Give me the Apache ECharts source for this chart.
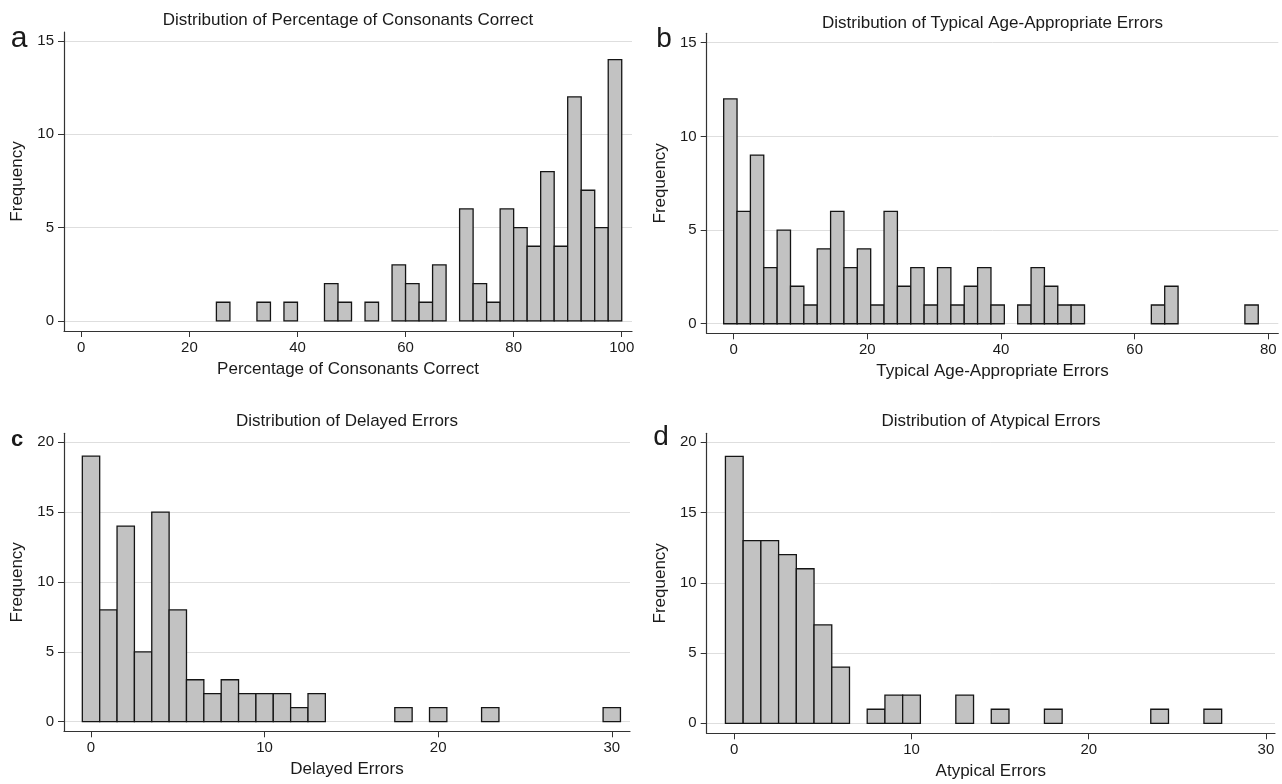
<!DOCTYPE html>
<html>
<head>
<meta charset="utf-8">
<script src="https://cdn.jsdelivr.net/npm/echarts@6/dist/echarts.min.js"></script>
<style>
html,body{margin:0;padding:0;background:#fff;}
#main{width:1282px;height:784px;}
</style>
</head>
<body>
<div id="main"></div>
<script>
// a: percentage of consonants correct (bin width 2.5)
var pccBins = [26.25, 33.75, 38.75, 46.25, 48.75, 53.75, 58.75, 61.25, 63.75, 66.25, 71.25, 73.75, 76.25, 78.75, 81.25, 83.75, 86.25, 88.75, 91.25, 93.75, 96.25, 98.75];
var pccFreq = [1, 1, 1, 2, 1, 1, 3, 2, 1, 3, 6, 2, 1, 6, 5, 4, 8, 4, 12, 7, 5, 14];
// b: typical age-appropriate errors (bin width 2)
var typBins = [-0.5, 1.5, 3.5, 5.5, 7.5, 9.5, 11.5, 13.5, 15.5, 17.5, 19.5, 21.5, 23.5, 25.5, 27.5, 29.5, 31.5, 33.5, 35.5, 37.5, 39.5, 43.5, 45.5, 47.5, 49.5, 51.5, 63.5, 65.5, 77.5];
var typFreq = [12, 6, 9, 3, 5, 2, 1, 4, 6, 3, 4, 1, 6, 2, 3, 1, 3, 1, 2, 3, 1, 1, 3, 2, 1, 1, 1, 2, 1];
// c: delayed errors (bin width 1)
var delBins = [0, 1, 2, 3, 4, 5, 6, 7, 8, 9, 10, 11, 12, 13, 18, 20, 23, 30];
var delFreq = [19, 8, 14, 5, 15, 8, 3, 2, 3, 2, 2, 2, 1, 2, 1, 1, 1, 1];
// d: atypical errors (bin width 1)
var atyBins = [0, 1, 2, 3, 4, 5, 6, 8, 9, 10, 13, 15, 18, 24, 27];
var atyFreq = [19, 13, 13, 12, 11, 7, 4, 1, 2, 2, 2, 1, 1, 1, 1];

var titles = ['Distribution of Percentage of Consonants Correct', 'Distribution of Typical Age-Appropriate Errors', 'Distribution of Delayed Errors', 'Distribution of Atypical Errors'];
var xNames = ['Percentage of Consonants Correct', 'Typical Age-Appropriate Errors', 'Delayed Errors', 'Atypical Errors'];
var xTicks = [[0, 20, 40, 60, 80, 100], [0, 20, 40, 60, 80], [0, 10, 20, 30], [0, 10, 20, 30]];
var yTicks = [[0, 5, 10, 15], [0, 5, 10, 15], [0, 5, 10, 15, 20], [0, 5, 10, 15, 20]];

var FONT = '"Liberation Sans", Arial, sans-serif';
var ink = '#1a1a1a';

function pairs(xs, ys){
    var out = [];
    for (var i = 0; i < xs.length; i++) out.push([xs[i], ys[i]]);
    return out;
}

function histBar(width){
    return function(params, api){
        var x = api.value(0), y = api.value(1);
        var p0 = api.coord([x - width / 2, 0]);
        var p1 = api.coord([x + width / 2, y]);
        return {
            type: 'rect',
            shape: {x: p0[0], y: p1[1], width: p1[0] - p0[0], height: p0[1] - p1[1]},
            style: {fill: '#c2c2c2', stroke: '#151515', lineWidth: 1.3}
        };
    };
}

var grids = [
    {left: 64, right: 650, top: 32, bottom: 453},
    {left: 706.7, right: 3.7, top: 33.3, bottom: 450.7},
    {left: 64, right: 652, top: 433.3, bottom: 52.7},
    {left: 706.7, right: 7, top: 433.3, bottom: 50.7}
];
var xRange = [[-3.2, 101.9], [-4.04, 81.5], [-1.556, 31.05], [-1.557, 30.51]];
var yRange = [[-0.54, 15.48], [-0.51, 15.5], [-0.69, 20.64], [-0.71, 20.64]];

var xAxes = [], yAxes = [];
for (var i = 0; i < 4; i++) {
    xAxes.push({
        gridIndex: i, type: 'value', min: xRange[i][0], max: xRange[i][1],
        name: xNames[i], nameLocation: 'middle', nameGap: 30,
        nameTextStyle: {fontFamily: FONT, fontSize: 17, color: ink},
        axisLine: {show: true, onZero: false, lineStyle: {color: '#333', width: 1.2}},
        axisTick: {show: true, length: 6, customValues: xTicks[i], lineStyle: {color: '#333'}},
        axisLabel: {customValues: xTicks[i], margin: 9, fontFamily: FONT, fontSize: 15, color: ink},
        splitLine: {show: false}
    });
    yAxes.push({
        gridIndex: i, type: 'value', min: yRange[i][0], max: yRange[i][1],
        name: 'Frequency', nameLocation: 'middle', nameGap: 38,
        nameTextStyle: {fontFamily: FONT, fontSize: 17, color: ink},
        axisLine: {show: true, onZero: false, lineStyle: {color: '#333', width: 1.2}},
        axisTick: {show: true, length: 6, customValues: yTicks[i], lineStyle: {color: '#333'}},
        axisLabel: {customValues: yTicks[i], margin: 10, fontFamily: FONT, fontSize: 15, color: ink},
        splitLine: {show: true, lineStyle: {color: '#dedede', width: 1}}
    });
}

var series = [
    {type: 'custom', xAxisIndex: 0, yAxisIndex: 0, renderItem: histBar(2.5), data: pairs(pccBins, pccFreq)},
    {type: 'custom', xAxisIndex: 1, yAxisIndex: 1, renderItem: histBar(2), data: pairs(typBins, typFreq)},
    {type: 'custom', xAxisIndex: 2, yAxisIndex: 2, renderItem: histBar(1), data: pairs(delBins, delFreq)},
    {type: 'custom', xAxisIndex: 3, yAxisIndex: 3, renderItem: histBar(1), data: pairs(atyBins, atyFreq)}
];

function label(text, x, y, size, weight){
    return {type: 'text', x: x, y: y, silent: true,
        style: {text: text, fill: ink, font: (weight || 'normal') + ' ' + size + 'px ' + FONT,
            align: 'center', verticalAlign: 'middle', textAlign: 'center', textVerticalAlign: 'middle'}};
}

var graphics = [
    label(titles[0], 348, 20.5, 17),
    label(titles[1], 992.5, 23, 17),
    label(titles[2], 347, 421.5, 17),
    label(titles[3], 991, 421.5, 17),
    label('a', 19, 38.5, 30),
    label('b', 664, 39, 28),
    label('c', 17, 439.5, 22, 'bold'),
    label('d', 661, 437, 28)
];

var myChart = echarts.init(document.getElementById('main'));
var option = {
    backgroundColor: '#fff',
    animation: false,
    grid: grids,
    xAxis: xAxes,
    yAxis: yAxes,
    series: series,
    graphic: graphics
};
myChart.setOption(option);
</script>
</body>
</html>
